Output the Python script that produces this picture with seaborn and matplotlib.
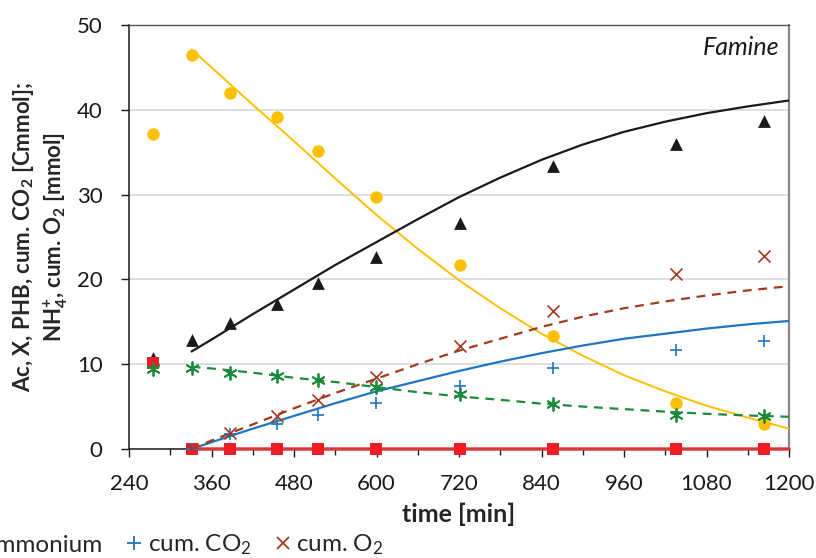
import numpy as np
import matplotlib
matplotlib.use("Agg")
import matplotlib.pyplot as plt
from matplotlib.lines import Line2D
from matplotlib.ticker import MultipleLocator
import seaborn as sns

sns.set_style("white")
plt.rcParams['font.family'] = ['Lato', 'DejaVu Sans']
plt.rcParams['mathtext.fontset'] = 'custom'
plt.rcParams['mathtext.rm'] = 'Lato'
plt.rcParams['mathtext.it'] = 'Lato:italic'
plt.rcParams['mathtext.bf'] = 'Lato:bold'

# measured values
time = [275, 331, 387, 455, 515, 599, 722, 856, 1036, 1163]
acetate = [37.1, 46.5, 42.0, 39.1, 35.1, 29.7, 21.7, 13.3, 5.4, 3.0]
biomass = [10.7, 12.8, 14.9, 17.1, 19.6, 22.6, 26.6, 33.4, 36.0, 38.7]
phb = [10.2, 0, 0, 0, 0, 0, 0, 0, 0, 0]
ammonium = [9.4, 9.6, 9.0, 8.6, 8.1, 7.3, 6.5, 5.3, 4.0, 3.9]
co2 = [np.nan, 0, 1.8, 3.0, 4.0, 5.4, 7.4, 9.5, 11.7, 12.7]
o2 = [np.nan, 0, 1.9, 3.9, 5.8, 8.5, 12.2, 16.3, 20.6, 22.8]

# model curves
t_model = [331, 360, 420, 480, 540, 600, 660, 720, 780, 840, 900, 960, 1020, 1080, 1140, 1200]
acetate_model = [47.1, 45.0, 40.6, 36.3, 31.9, 27.6, 23.6, 19.9, 16.6, 13.6, 11.0, 8.7, 6.8, 5.1, 3.7, 2.4]
biomass_model = [11.5, 12.9, 15.9, 18.8, 21.7, 24.4, 27.1, 29.7, 32.0, 34.1, 35.9, 37.4, 38.6, 39.6, 40.4, 41.1]
phb_model = [0] * 16
ammonium_model = [9.7, 9.5, 9.0, 8.4, 7.9, 7.3, 6.7, 6.2, 5.8, 5.35, 5.0, 4.7, 4.4, 4.15, 3.95, 3.8]
co2_model = [0, 0.8, 2.4, 3.9, 5.4, 6.8, 8.0, 9.2, 10.3, 11.3, 12.2, 13.0, 13.6, 14.2, 14.7, 15.1]
o2_model = [0, 1.0, 2.9, 4.8, 6.6, 8.3, 10.0, 11.6, 13.0, 14.4, 15.6, 16.6, 17.4, 18.1, 18.7, 19.2]

labels = ['Acetate', 'X', 'PHB', 'Ammonium', 'cum. CO$_2$', 'cum. O$_2$']

c_ac = '#FFC000'
c_x = '#1A1A1A'
c_phb = '#EE1C25'
c_nh4 = '#1B8A3A'
c_co2 = '#1F74C4'
c_o2 = '#A23A22'

fig, ax = plt.subplots(figsize=(8.16, 5.58), dpi=100)
fig.subplots_adjust(left=129/816, right=789/816, top=1-25/558, bottom=1-449/558)

# model lines
sns.lineplot(x=t_model, y=acetate_model, color=c_ac, lw=1.4, ax=ax, zorder=3)
sns.lineplot(x=t_model, y=biomass_model, color=c_x, lw=1.6, ax=ax, zorder=3)
sns.lineplot(x=t_model, y=co2_model, color=c_co2, lw=1.6, ax=ax, zorder=3)
sns.lineplot(x=t_model, y=o2_model, color=c_o2, lw=1.6, ls=(0, (4, 3)), ax=ax, zorder=3)
sns.lineplot(x=t_model, y=ammonium_model, color=c_nh4, lw=1.6, ls=(0, (4, 3)), ax=ax, zorder=3)
sns.lineplot(x=t_model, y=phb_model, color='#EE3B3B', lw=2.8, alpha=0.8, ax=ax, zorder=3,
             clip_on=False)

# data markers
sns.scatterplot(x=time, y=acetate, marker='o', s=80, color=c_ac, linewidth=0, ax=ax, zorder=4)
sns.scatterplot(x=time, y=biomass, marker='^', s=85, color=c_x, linewidth=0, ax=ax, zorder=4)
sns.scatterplot(x=time, y=phb, marker='s', s=80, color=c_phb, linewidth=0, ax=ax, zorder=4,
                clip_on=False)
sns.scatterplot(x=time, y=ammonium, marker=(6, 2, 0), s=85, color=c_nh4, linewidth=1.3, ax=ax, zorder=4)
sns.scatterplot(x=time, y=co2, marker='+', s=85, color=c_co2, linewidth=1.2, ax=ax, zorder=4)
sns.scatterplot(x=time, y=o2, marker='x', s=75, color=c_o2, linewidth=1.2, ax=ax, zorder=4)

ax.set_xlim(240, 1200)
ax.set_ylim(0, 50)
ax.xaxis.set_major_locator(MultipleLocator(120))
ax.xaxis.set_minor_locator(MultipleLocator(60))
ax.yaxis.set_major_locator(MultipleLocator(10))

ax.grid(axis='y', color='#D9D9D9', lw=1.2)
ax.set_axisbelow(True)
for side in ['left', 'bottom']:
    ax.spines[side].set_color('#1A1A1A')
    ax.spines[side].set_linewidth(1.1)
ax.spines['top'].set_color('#555555')
ax.spines['top'].set_linewidth(1.0)
ax.spines['right'].set_color('#888888')
ax.spines['right'].set_linewidth(1.6)

ax.tick_params(axis='both', which='major', direction='out', labelsize=16, colors='#1A1A1A',
               length=6, width=1.0, left=True, bottom=True)
ax.tick_params(axis='x', which='minor', direction='out', length=4, width=1.0, bottom=True,
               colors='#1A1A1A')
ax.tick_params(axis='x', which='major', pad=12)
ax.tick_params(axis='y', which='major', pad=13)

ax.set_xlabel('time [min]', fontsize=18, fontweight='bold', labelpad=6)
ax.set_ylabel('Ac, X, PHB, cum. CO$_\\mathbf{2}$ [Cmmol];\nNH$_\\mathbf{4}^\\mathbf{+}$, cum. O$_\\mathbf{2}$ [mmol]',
              fontsize=16, fontweight='bold', linespacing=1.25, labelpad=5)

ax.text(0.985, 0.975, 'Famine', transform=ax.transAxes, ha='right', va='top',
        fontsize=18, style='italic', color='#1A1A1A')

handles = [
    Line2D([], [], ls='none', marker='o', ms=9, color=c_ac, mec=c_ac),
    Line2D([], [], ls='none', marker='^', ms=9.5, color=c_x),
    Line2D([], [], ls='none', marker='s', ms=9, color=c_phb),
    Line2D([], [], ls='none', marker=(6, 2, 0), ms=9.5, color=c_nh4, mew=1.3),
    Line2D([], [], ls='none', marker='+', ms=10, color=c_co2, mew=1.3),
    Line2D([], [], ls='none', marker='x', ms=9, color=c_o2, mew=1.3),
]
fig.legend(handles, labels, loc='center right', bbox_to_anchor=(384/816, 1-545/558),
           ncol=6, frameon=False, borderpad=0, borderaxespad=0, fontsize=17.5,
           handlelength=0.6, handletextpad=0.25, columnspacing=1.0)

fig.savefig('out.png', dpi=100)
